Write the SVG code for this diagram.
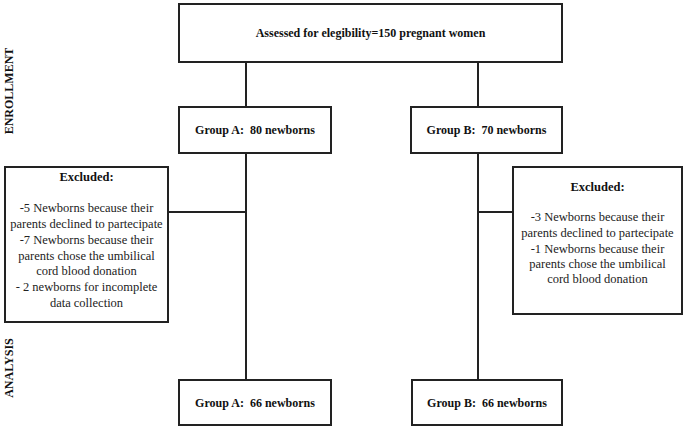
<svg xmlns="http://www.w3.org/2000/svg" width="685" height="427" viewBox="0 0 685 427">
<style>
.box{fill:#fff;stroke:#222;stroke-width:2}
.ln{fill:none;stroke:#222;stroke-width:2}
.b{font-family:"Liberation Serif","Times New Roman",serif;font-weight:bold;font-size:12px;fill:#111;text-anchor:middle;white-space:pre}
.r{font-family:"Liberation Serif","Times New Roman",serif;font-size:12.5px;fill:#222;text-anchor:middle}
.eb{font-family:"Liberation Serif","Times New Roman",serif;font-weight:bold;font-size:12.5px;fill:#111;text-anchor:middle}
</style>
<rect width="685" height="427" fill="#fff"/>
<g id="connectors">
<line class="ln" x1="246" y1="62" x2="246" y2="107"/>
<line class="ln" x1="478" y1="62" x2="478" y2="107"/>
<line class="ln" x1="246" y1="153" x2="246" y2="380"/>
<line class="ln" x1="478" y1="153" x2="478" y2="380"/>
<line class="ln" x1="168" y1="212" x2="246" y2="212"/>
<line class="ln" x1="478" y1="212" x2="513" y2="212"/>
</g>
<g id="label-enrollment"><text class="b" transform="translate(13,91) rotate(-90)">ENROLLMENT</text></g>
<g id="label-analysis"><text class="b" transform="translate(13,368) rotate(-90)">ANALYSIS</text></g>
<g id="assessed">
<rect class="box" x="179" y="4" width="383" height="58"/>
<text class="b" x="370.5" y="37" font-size="12.4">Assessed for elegibility=150 pregnant women</text>
</g>
<g id="groupA80">
<rect class="box" x="179" y="107" width="152" height="46"/>
<text class="b" x="255" y="134" xml:space="preserve">Group A:  80 newborns</text>
</g>
<g id="groupB70">
<rect class="box" x="411" y="107" width="151" height="46"/>
<text class="b" x="486.5" y="134" xml:space="preserve">Group B:  70 newborns</text>
</g>
<g id="excludedA">
<rect class="box" x="5" y="167" width="163" height="155"/>
<text class="eb" x="86.5" y="181">Excluded:</text>
<text class="r" x="86.5" y="212">-5 Newborns because their</text>
<text class="r" x="86.5" y="228">parents declined to partecipate</text>
<text class="r" x="86.5" y="244">-7 Newborns because their</text>
<text class="r" x="86.5" y="260">parents chose the umbilical</text>
<text class="r" x="86.5" y="275">cord blood donation</text>
<text class="r" x="86.5" y="291">- 2 newborns for incomplete</text>
<text class="r" x="86.5" y="307">data collection</text>
</g>
<g id="excludedB">
<rect class="box" x="513" y="167" width="169" height="147"/>
<text class="eb" x="597.5" y="191">Excluded:</text>
<text class="r" x="597.5" y="221">-3 Newborns because their</text>
<text class="r" x="597.5" y="237">parents declined to partecipate</text>
<text class="r" x="597.5" y="253">-1 Newborns because their</text>
<text class="r" x="597.5" y="268">parents chose the umbilical</text>
<text class="r" x="597.5" y="283">cord blood donation</text>
</g>
<g id="groupA66">
<rect class="box" x="179" y="380" width="152" height="45"/>
<text class="b" x="255" y="407" xml:space="preserve">Group A:  66 newborns</text>
</g>
<g id="groupB66">
<rect class="box" x="412" y="380" width="150" height="45"/>
<text class="b" x="487" y="407" xml:space="preserve">Group B:  66 newborns</text>
</g>
</svg>
